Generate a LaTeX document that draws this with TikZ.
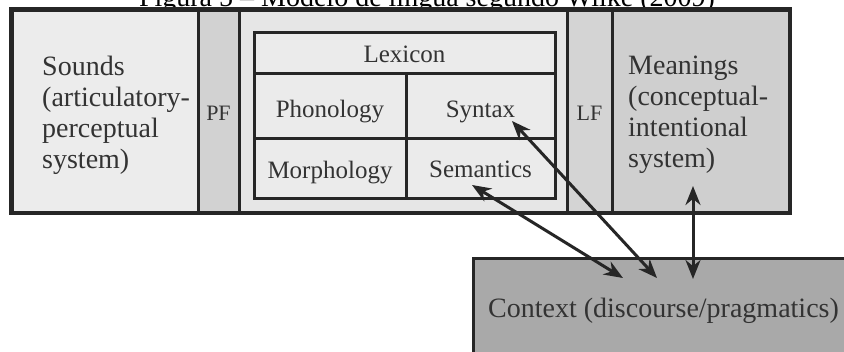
\documentclass[tikz,border=0pt]{standalone}
\usepackage{fontspec}
\setmainfont{Liberation Serif}
\usetikzlibrary{arrows.meta}
\definecolor{linec}{HTML}{262626}
\definecolor{txt}{HTML}{333333}
\definecolor{fsounds}{HTML}{ECECEC}
\definecolor{fpf}{HTML}{D2D2D2}
\definecolor{fcenter}{HTML}{E6E6E6}
\definecolor{flf}{HTML}{D4D4D4}
\definecolor{fmean}{HTML}{CFCFCF}
\definecolor{flex}{HTML}{EBEBEB}
\definecolor{fctx}{HTML}{A9A9A9}
\begin{document}
\begin{tikzpicture}[x=1pt,y=-1pt,
  cell/.style={draw=linec, line width=3pt, inner sep=0pt, rectangle},
  big/.style={font=\fontsize{28}{31}\selectfont, text=txt, inner sep=0pt},
  mid/.style={font=\fontsize{25}{28}\selectfont, text=txt, inner sep=0pt, anchor=base},
  small/.style={font=\fontsize{22}{24}\selectfont, text=txt, inner sep=0pt, anchor=base},
  arr/.style={draw=linec, line width=3pt, {Stealth[length=19pt,width=15pt]}-{Stealth[length=19pt,width=15pt]}}]
\useasboundingbox (0,0) rectangle (844,351);
\node[big, anchor=base, text=black] (title) at (427,6) {Figura 5 – Modelo de língua segundo Wilke (2009)};
% context box
\node[cell, fill=fctx, minimum width=440pt, minimum height=160pt, anchor=north west] (ctx) at (472,257) {};
% outer columns
\node[cell, fill=fsounds, minimum width=186pt, minimum height=202pt] (sounds) at (105,111) {};
\node[cell, fill=fpf, minimum width=41pt, minimum height=202pt] (pf) at (218.5,111) {};
\node[cell, fill=fcenter, minimum width=328pt, minimum height=202pt] (center) at (403,111) {};
\node[cell, fill=flf, minimum width=45pt, minimum height=202pt] (lf) at (589.5,111) {};
\node[cell, fill=fmean, minimum width=177pt, minimum height=202pt] (mean) at (700.5,111) {};
\draw[draw=linec, line width=3.5pt] (sounds.north west) rectangle (mean.south east);
% lexicon grid
\node[cell, fill=flex, minimum width=301pt, minimum height=41pt] (lexrow) at (404.5,52.5) {};
\node[cell, fill=flex, minimum width=152pt, minimum height=65pt] (phoncell) at (330,105.5) {};
\node[cell, fill=flex, minimum width=149pt, minimum height=65pt] (syncell) at (480.5,105.5) {};
\node[cell, fill=flex, minimum width=152pt, minimum height=60pt] (morcell) at (330,168) {};
\node[cell, fill=flex, minimum width=149pt, minimum height=60pt] (semcell) at (480.5,168) {};
% texts
\node[big, anchor=north west, align=left] (soundst) at (42,56) {Sounds\\(articulatory-\\perceptual\\system)};
\node[big, anchor=north west, align=left] (meant) at (628,56) {Meanings\\(conceptual-\\intentional\\system)};
\node[small] (pft) at (218.5,120) {PF};
\node[small] (lft) at (589.5,120) {LF};
\node[mid] (lext) at (404.5,62) {Lexicon};
\node[mid] (phont) at (330,117) {Phonology};
\node[mid] (synt) at (480.5,117) {Syntax};
\node[mid] (mort) at (330,178) {Morphology};
\node[mid] (semt) at (480.5,177) {Semantics};
\node[big, anchor=base west] (ctxt) at (488,317) {Context (discourse/pragmatics)};
% arrows
\coordinate (synA) at (512,121);
\coordinate (ctxA) at (657,278);
\coordinate (semA) at (472,185);
\coordinate (ctxB) at (623,278);
\coordinate (meanA) at (693,186);
\coordinate (ctxC) at (693,279);
\draw[arr] (synA) -- (ctxA);
\draw[arr] (semA) -- (ctxB);
\draw[arr] (meanA) -- (ctxC);
\end{tikzpicture}
\end{document}
